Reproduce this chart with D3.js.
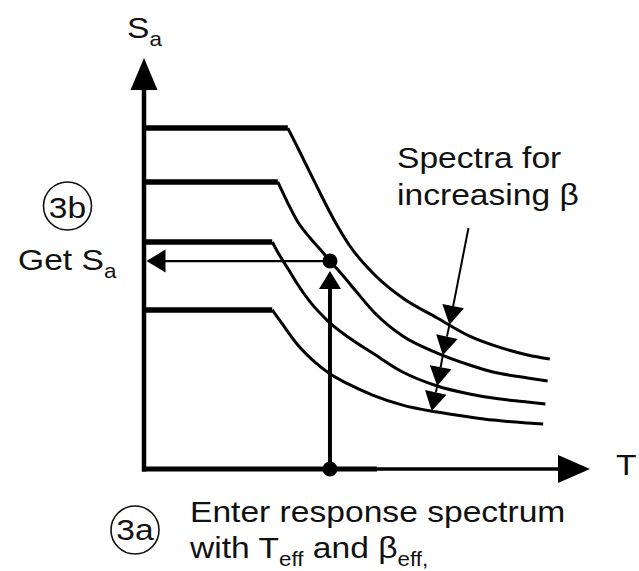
<!DOCTYPE html>
<html>
<head>
<meta charset="utf-8">
<script src="https://cdn.jsdelivr.net/npm/d3@7"></script>
<style>
  html, body { margin: 0; padding: 0; background: #fff; }
  svg { display: block; }
  text { font-family: "Liberation Sans", Arial, Helvetica, sans-serif; fill: #111; }
</style>
</head>
<body>
<script>
// ---------- data (period T, spectral acceleration Sa) ----------
const plateauSa = [1.659, 1.397, 1.105, 0.774];   // constant-acceleration plateaus
const cornerT   = [1.29, 1.20, 1.15, 1.15];       // end of plateau

const spec1T  = [1.29, 1.38, 1.53, 1.73, 1.84, 2.07, 2.32, 2.63, 2.92, 3.13, 3.44, 3.64];
const spec1Sa = [1.659, 1.562, 1.397, 1.187, 1.090, 0.944, 0.832, 0.735, 0.647, 0.603, 0.555, 0.535];

const spec2T  = [1.20, 1.29, 1.38, 1.49, 1.60, 1.668, 1.78, 1.90, 2.07, 2.32, 2.63, 2.92, 3.13, 3.44, 3.62];
const spec2Sa = [1.397, 1.294, 1.202, 1.124, 1.056, 1.012, 0.944, 0.866, 0.759, 0.647, 0.564, 0.506, 0.472, 0.443, 0.428];

const spec3T  = [1.15, 1.22, 1.31, 1.37, 1.49, 1.65, 1.83, 2.05, 2.32, 2.63, 2.92, 3.13, 3.44, 3.60];
const spec3Sa = [1.105, 1.036, 0.959, 0.905, 0.813, 0.720, 0.642, 0.564, 0.472, 0.404, 0.365, 0.345, 0.326, 0.316];

const spec4T  = [1.15, 1.24, 1.38, 1.53, 1.67, 1.83, 2.05, 2.32, 2.63, 2.92, 3.13, 3.44, 3.58];
const spec4Sa = [0.774, 0.706, 0.603, 0.521, 0.462, 0.414, 0.360, 0.311, 0.277, 0.253, 0.238, 0.224, 0.219];

const Teff = 1.668;                 // entry period
const effSpectrum = 1;              // index of spectrum for beta_eff
const leaderStart = [2.91, 1.173];  // start of "increasing beta" leader
const betaTipT = [2.74, 2.68, 2.63, 2.58]; // where arrows hit spectra 1..4

const specT  = [spec1T, spec2T, spec3T, spec4T];
const specSa = [spec1Sa, spec2Sa, spec3Sa, spec4Sa];

// ---------- setup ----------
const W = 639, H = 571;
const svg = d3.select("body").append("svg").attr("width", W).attr("height", H);
const x = d3.scaleLinear().domain([0, 4]).range([144, 590]);
const y = d3.scaleLinear().domain([0, 2]).range([469, 58]);

function interp(ts, vs, t) {
  for (let i = 0; i < ts.length - 1; i++) {
    if (t >= ts[i] && t <= ts[i + 1]) {
      const f = (t - ts[i]) / (ts[i + 1] - ts[i]);
      return vs[i] + f * (vs[i + 1] - vs[i]);
    }
  }
  return t < ts[0] ? vs[0] : vs[vs.length - 1];
}

function arrowHead(tx, ty, fx, fy, len, hw) {
  const dx = tx - fx, dy = ty - fy, L = Math.hypot(dx, dy);
  const ux = dx / L, uy = dy / L;
  const bx = tx - ux * len, by = ty - uy * len;
  const px = -uy, py = ux;
  svg.append("path")
    .attr("d", `M${tx},${ty}L${bx + px * hw},${by + py * hw}L${bx - px * hw},${by - py * hw}Z`)
    .attr("fill", "#000");
  return [bx, by];
}

const black = "#000";

// ---------- spectra ----------
const curveLine = d3.line().x(d => x(d[0])).y(d => y(d[1])).curve(d3.curveMonotoneX);
specT.forEach((ts, i) => {
  // plateau
  svg.append("line")
    .attr("x1", x(0)).attr("x2", x(cornerT[i]))
    .attr("y1", y(plateauSa[i])).attr("y2", y(plateauSa[i]))
    .attr("stroke", black).attr("stroke-width", 5.5);
  // descending branch
  const pts = ts.map((t, k) => [t, specSa[i][k]]);
  svg.append("path").attr("d", curveLine(pts))
    .attr("fill", "none").attr("stroke", black).attr("stroke-width", 3);
});

// ---------- axes ----------
const x0 = x(0), y0 = y(0);
svg.append("line").attr("x1", x0).attr("x2", x0).attr("y1", y0 + 2.5).attr("y2", y(2) + 28)
  .attr("stroke", black).attr("stroke-width", 4.5);
arrowHead(x0, y(2), x0, y0, 32, 13.5);
svg.append("line").attr("x1", x0 - 2).attr("x2", x(2.09)).attr("y1", y0).attr("y2", y0)
  .attr("stroke", black).attr("stroke-width", 5);
svg.append("line").attr("x1", x(2.09)).attr("x2", x(4) - 28).attr("y1", y0).attr("y2", y0)
  .attr("stroke", black).attr("stroke-width", 3.5);
arrowHead(x(4), y0, x0, y0, 32, 14);

// ---------- Teff entry and Sa read-out ----------
const SaEff = interp(specT[effSpectrum], specSa[effSpectrum], Teff);
const px = x(Teff), py = y(SaEff);
svg.append("line").attr("x1", px).attr("x2", px).attr("y1", y0).attr("y2", py + 26)
  .attr("stroke", black).attr("stroke-width", 4);
arrowHead(px, py + 10, px, y0, 18, 11);
svg.append("line").attr("x1", px).attr("x2", x0 + 20).attr("y1", py).attr("y2", py)
  .attr("stroke", black).attr("stroke-width", 2.3);
arrowHead(x0 + 2.5, py, px, py, 19, 11.5);
svg.append("circle").attr("cx", px).attr("cy", py).attr("r", 7.5).attr("fill", black);
svg.append("circle").attr("cx", px).attr("cy", y0).attr("r", 7.5).attr("fill", black);

// ---------- increasing beta arrows ----------
let prev = [x(leaderStart[0]), y(leaderStart[1])];
betaTipT.forEach((t, i) => {
  const tip = [x(t), y(interp(specT[i], specSa[i], t))];
  const base = arrowHead(tip[0], tip[1], prev[0], prev[1], 19, 11);
  svg.append("line").attr("x1", prev[0]).attr("y1", prev[1]).attr("x2", base[0]).attr("y2", base[1])
    .attr("stroke", black).attr("stroke-width", 2);
  prev = tip;
});

// ---------- text ----------
const SX = 1.12;
function label(xp, yp, parts, size) {
  const t = svg.append("text")
    .attr("transform", `translate(${xp},${yp}) scale(${SX},1)`)
    .attr("font-size", size || 30);
  let shifted = 0;
  parts.forEach(p => {
    const ts = t.append("tspan").text(p.s);
    const want = p.sub ? 8 : 0;
    if (want !== shifted) { ts.attr("dy", want - shifted); shifted = want; }
    if (p.sub) ts.attr("font-size", 20);
  });
  return t;
}

label(127, 38, [{s: "S"}, {s: "a", sub: true}]);
label(616, 475, [{s: "T"}]);
label(397, 168, [{s: "Spectra for"}]);
label(397, 205, [{s: "increasing \u03B2"}]);
label(18, 270, [{s: "Get S"}, {s: "a", sub: true}]);
label(190, 522, [{s: "Enter response spectrum"}]);
label(190, 558, [{s: "with T"}, {s: "eff", sub: true}, {s: " and \u03B2"}, {s: "eff,", sub: true}]);

// circled step numbers
[["3b", 67.5, 206, 218], ["3a", 135, 530, 540]].forEach(([s, cx, cy, by]) => {
  svg.append("circle").attr("cx", cx).attr("cy", cy).attr("r", 24)
    .attr("fill", "none").attr("stroke", "#111").attr("stroke-width", 1.6);
  svg.append("text")
    .attr("transform", `translate(${cx},${by}) scale(${SX},1)`)
    .attr("text-anchor", "middle").attr("font-size", 30).text(s);
});
</script>
</body>
</html>
